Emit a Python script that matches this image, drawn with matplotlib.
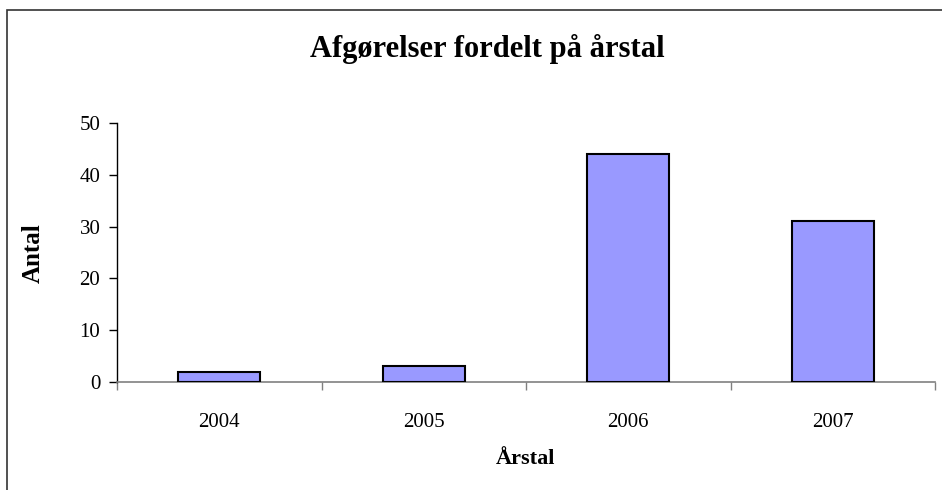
import matplotlib.pyplot as plt
from matplotlib.patches import Rectangle

# data
years = ["2004", "2005", "2006", "2007"]
counts = [2, 3, 44, 31]

plt.rcParams['font.family'] = ['Liberation Serif', 'DejaVu Serif']

fig = plt.figure(figsize=(9.42, 4.9), dpi=100)
ax = fig.add_axes([117/942, 1 - 382/490, (935 - 117)/942, (382 - 123)/490])

pos = range(len(years))
ax.bar(pos, counts, width=0.4, color='#9999ff', edgecolor='black', linewidth=1.5, zorder=3)

ax.set_xlim(-0.5, len(years) - 0.5)
ax.set_ylim(0, 50)
ax.set_yticks(range(0, 51, 10))
ax.set_xticks(list(pos))
ax.set_xticklabels(years)
ax.set_xticks([i - 0.5 for i in range(len(years) + 1)], minor=True)

ax.tick_params(axis='x', which='major', length=0, pad=22, labelsize=15)
ax.tick_params(axis='x', which='minor', length=6, width=1, color='#808080', direction='out')
ax.tick_params(axis='y', length=6, width=1, direction='out', pad=6, labelsize=15)

for s in ['top', 'right']:
    ax.spines[s].set_visible(False)
ax.spines['bottom'].set_color('#808080')
ax.spines['bottom'].set_linewidth(1.2)
ax.spines['left'].set_color('black')
ax.spines['left'].set_linewidth(1)

fig.text(487/942, 1 - 49/490, "Afgørelser fordelt på årstal", ha='center', va='center',
         fontsize=22, fontweight='bold')
fig.text(33/942, 1 - 253/490, "Antal", ha='center', va='center', rotation=90,
         fontsize=18, fontweight='bold')
fig.text(525/942, 1 - 459/490, "Årstal", ha='center', va='center',
         fontsize=16, fontweight='bold')

# frame around the chart area (runs off the right and bottom edges)
fig.patches.append(Rectangle((7/942, -0.1), 1.2, 1 - 10/490 + 0.1, transform=fig.transFigure,
                             fill=False, edgecolor='#333333', linewidth=1.2))

fig.savefig("out.png", dpi=100)
